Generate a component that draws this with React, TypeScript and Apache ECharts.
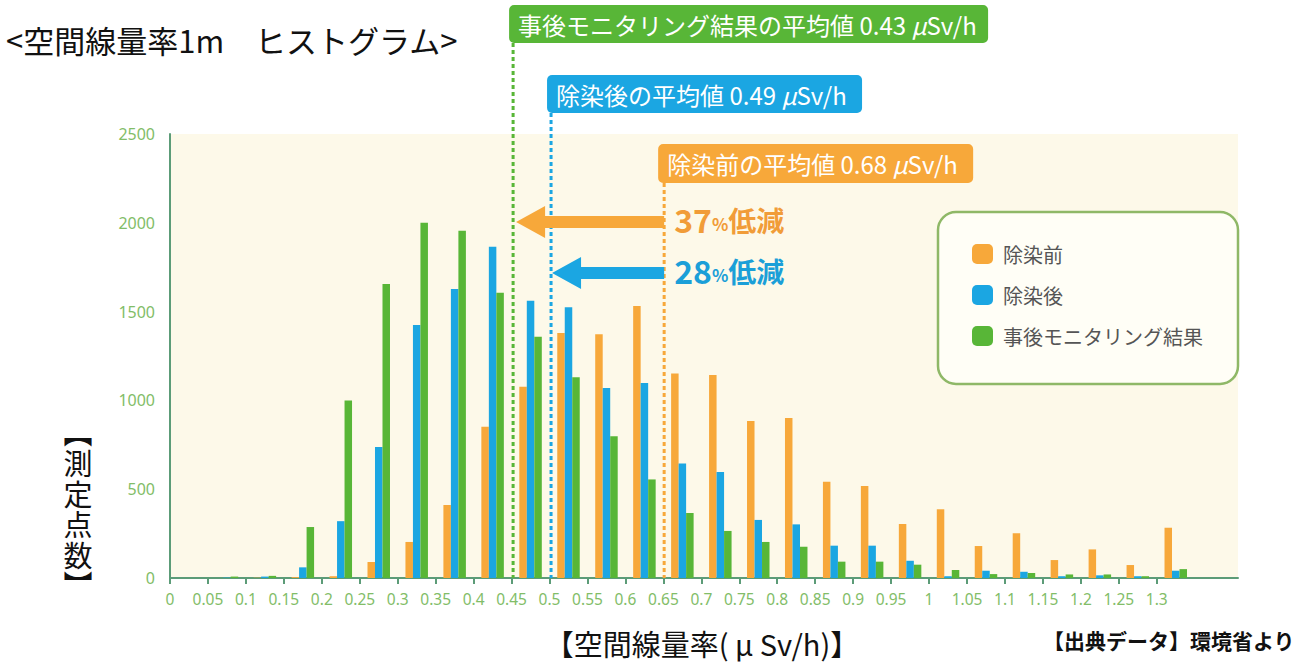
import React, { useEffect, useRef } from "react";
import * as echarts from "echarts";

// ---- data ----
const binCenters = [
  0.025, 0.075, 0.125, 0.175, 0.225, 0.275, 0.325, 0.375, 0.425, 0.475,
  0.525, 0.575, 0.625, 0.675, 0.725, 0.775, 0.825, 0.875, 0.925, 0.975,
  1.025, 1.075, 1.125, 1.175, 1.225, 1.275, 1.325,
];
const beforeDecon = [
  0, 0, 2, 5, 10, 90, 203, 411, 852, 1077, 1380, 1372, 1531, 1152, 1143, 884,
  901, 542, 518, 304, 387, 180, 252, 101, 161, 73, 283,
];
const afterDecon = [
  0, 2, 8, 60, 320, 738, 1425, 1627, 1865, 1561, 1524, 1070, 1098, 645, 597,
  327, 302, 182, 182, 97, 10, 41, 35, 10, 15, 10, 41,
];
const monitoring = [
  0, 8, 12, 287, 1000, 1655, 2000, 1955, 1606, 1359, 1130, 798, 555, 366, 265,
  203, 176, 92, 92, 75, 45, 22, 28, 20, 20, 10, 50,
];
const seriesNames = ["除染前", "除染後", "事後モニタリング結果"];
const xTickValues = [
  0, 0.05, 0.1, 0.15, 0.2, 0.25, 0.3, 0.35, 0.4, 0.45, 0.5, 0.55, 0.6, 0.65,
  0.7, 0.75, 0.8, 0.85, 0.9, 0.95, 1, 1.05, 1.1, 1.15, 1.2, 1.25, 1.3,
];
const xTickLabels = [
  "0", "0.05", "0.1", "0.15", "0.2", "0.25", "0.3", "0.35", "0.4", "0.45",
  "0.5", "0.55", "0.6", "0.65", "0.7", "0.75", "0.8", "0.85", "0.9", "0.95",
  "1", "1.05", "1.1", "1.15", "1.2", "1.25", "1.3",
];
// positions (in axis units) where the mean lines are drawn in the picture
const meanLineX = { monitoring: 0.452, after: 0.502, before: 0.651 };
const meanLabels = {
  monitoring: "事後モニタリング結果の平均値 0.43 ",
  after: "除染後の平均値 0.49 ",
  before: "除染前の平均値 0.68 ",
};
const reductions = [
  { pct: "37", key: "monitoring" },
  { pct: "28", key: "after" },
];
const yNameChars = ["測", "定", "点", "数"];

const ORANGE = "#f7a83a";
const BLUE = "#1ba6e2";
const GREEN = "#58b637";
const AXIS = "#5c9c78";
const LABEL = "#82bd68";
const FONT = '"Noto Sans CJK JP", "Noto Sans", sans-serif';

export default function App() {
  const ref = useRef<HTMLDivElement>(null);

  useEffect(() => {
    if (!ref.current) return;
    const chart = echarts.init(ref.current, undefined, { renderer: "svg" });
    const mk = (vals: number[]) => binCenters.map((c, i) => [c, vals[i]]);
    const colors = [ORANGE, BLUE, GREEN];
    const valsList = [beforeDecon, afterDecon, monitoring];

    chart.setOption({
      animation: false,
      textStyle: { fontFamily: FONT },
      grid: {
        left: 170,
        right: 64,
        top: 134,
        bottom: 85,
        show: true,
        backgroundColor: "#fdf9e9",
        borderWidth: 0,
      },
      legend: {
        orient: "vertical",
        left: 967,
        top: 239,
        itemWidth: 21,
        itemHeight: 20,
        itemGap: 21,
        icon: "roundRect",
        data: seriesNames,
        textStyle: {
          fontSize: 20,
          color: "#555555",
          fontFamily: FONT,
          padding: [0, 0, 0, 5],
        },
        selectedMode: false,
        z: 10,
      },
      xAxis: {
        type: "value",
        min: 0,
        max: 1.407,
        interval: 0.05,
        splitLine: { show: false },
        axisLine: { show: true, onZero: false, lineStyle: { color: AXIS, width: 2 } },
        axisTick: {
          show: true,
          length: 6,
          customValues: xTickValues,
          lineStyle: { color: AXIS, width: 2 },
        },
        axisLabel: {
          customValues: xTickValues,
          color: LABEL,
          fontSize: 15.5,
          margin: 13,
          fontFamily: '"Noto Sans", sans-serif',
          formatter: (v: number) => {
            let best = 0;
            xTickValues.forEach((t, i) => {
              if (Math.abs(t - v) < Math.abs(xTickValues[best] - v)) best = i;
            });
            return xTickLabels[best];
          },
        },
      },
      yAxis: {
        type: "value",
        min: 0,
        max: 2500,
        interval: 500,
        splitLine: { show: false },
        axisLine: { show: true, lineStyle: { color: AXIS, width: 2 } },
        axisTick: { show: false },
        axisLabel: {
          color: LABEL,
          fontSize: 16,
          margin: 15,
          fontFamily: '"Noto Sans", sans-serif',
          formatter: (v: number) => String(v),
        },
      },
      series: seriesNames.map((n, i) => ({
        type: "bar",
        name: n,
        data: mk(valsList[i]),
        barWidth: 7.5,
        barGap: "0%",
        itemStyle: { color: colors[i] },
      })),
    });

    const px = (v: number) => chart.convertToPixel({ xAxisIndex: 0 }, v) as number;
    const py = (v: number) => chart.convertToPixel({ yAxisIndex: 0 }, v) as number;
    const y0 = py(0);
    const gx = px(meanLineX.monitoring);
    const bx = px(meanLineX.after);
    const ox = px(meanLineX.before);

    const boxRich = {
      n: { fontSize: 24, fill: "#ffffff", fontFamily: FONT },
      i: { fontSize: 24, fill: "#ffffff", fontStyle: "italic", fontFamily: FONT },
    };

    const box = (lx: number, top: number, w: number, h: number, color: string, label: string) => [
      {
        type: "rect",
        shape: { x: lx - 4, y: top, width: w, height: h, r: 5 },
        style: { fill: color },
        z: 20,
      },
      {
        type: "text",
        x: lx + 5,
        y: top + h / 2,
        style: {
          text: `{n|${label}}{i|μ}{n|Sv/h}`,
          verticalAlign: "middle",
          rich: boxRich,
        },
        z: 21,
      },
    ];

    const vline = (lx: number, top: number, color: string) => ({
      type: "line",
      shape: { x1: lx, y1: top, x2: lx, y2: y0 },
      style: { stroke: color, lineWidth: 3, lineDash: [4, 3] },
      z: 15,
    });

    const arrow = (x0: number, tip: number, cy: number, color: string) => ({
      type: "polygon",
      shape: {
        points: [
          [x0, cy - 6],
          [tip + 29, cy - 6],
          [tip + 29, cy - 16],
          [tip, cy],
          [tip + 29, cy + 16],
          [tip + 29, cy + 6],
          [x0, cy + 6],
        ],
      },
      style: { fill: color },
      z: 16,
    });

    const redText = (pct: string, cy: number, color: string) => ({
      type: "text",
      x: ox + 10,
      y: cy + 13,
      style: {
        text: `{a|${pct}}{b|%}{c|低減}`,
        rich: {
          a: { fontSize: 32, fontWeight: "bold", fill: color, fontFamily: FONT, verticalAlign: "bottom" },
          b: { fontSize: 17, fontWeight: "bold", fill: color, fontFamily: FONT, verticalAlign: "bottom", padding: [0, 0, 3, 0] },
          c: { fontSize: 28, fontWeight: "bold", fill: color, fontFamily: FONT, verticalAlign: "bottom", padding: [0, 0, 1, 0] },
        },
        verticalAlign: "bottom",
      },
      z: 20,
    });

    const yNameText = (t: string, y: number, va: string, lh: number) => ({
      type: "text",
      x: 78,
      y,
      style: {
        text: t,
        fontSize: 29,
        lineHeight: lh,
        fill: "#111111",
        fontFamily: FONT,
        align: "center",
        verticalAlign: va,
      },
    });

    chart.setOption({
      graphic: [
        // title
        {
          type: "text",
          x: 6,
          y: 39,
          style: {
            text: "<空間線量率1m　ヒストグラム>",
            fontSize: 31,
            fill: "#111111",
            fontFamily: FONT,
            verticalAlign: "middle",
          },
        },
        // mean lines and labels
        vline(gx, 43, GREEN),
        vline(bx, 113, BLUE),
        vline(ox, 183, ORANGE),
        ...box(gx, 5, 479, 38, GREEN, meanLabels.monitoring),
        ...box(bx, 75, 315, 38, BLUE, meanLabels.after),
        ...box(ox - 2, 144, 315, 39, ORANGE, meanLabels.before),
        // arrows
        arrow(ox, gx + 3, 222, ORANGE),
        arrow(ox, bx + 1, 273, BLUE),
        redText(reductions[0].pct, 222, "#f19c38"),
        redText(reductions[1].pct, 273, "#1b9fd8"),
        // legend frame
        {
          type: "rect",
          shape: { x: 938, y: 212, width: 300, height: 172, r: 18 },
          style: { fill: "#fffef6", stroke: "#8fb867", lineWidth: 2.5 },
          z: 5,
        },
        // y axis name (vertical writing)
        yNameText("︻", 445, "bottom", 29),
        yNameText(yNameChars.join("\n"), 447, "top", 30.5),
        yNameText("︼", 569, "top", 29),
        // x axis name
        {
          type: "text",
          x: 702,
          y: 643,
          style: {
            text: "【空間線量率( μ Sv/h)】",
            fontSize: 29,
            fill: "#111111",
            fontFamily: FONT,
            align: "center",
            verticalAlign: "middle",
          },
        },
        // source
        {
          type: "text",
          x: 1043,
          y: 640,
          style: {
            text: "【出典データ】環境省より",
            fontSize: 21,
            fontWeight: "bold",
            fill: "#111111",
            fontFamily: FONT,
            verticalAlign: "middle",
          },
        },
      ],
    });

    return () => chart.dispose();
  }, []);

  return (
    <div
      ref={ref}
      style={{ position: "fixed", left: 0, top: 0, width: 1302, height: 663, background: "#ffffff" }}
    />
  );
}
